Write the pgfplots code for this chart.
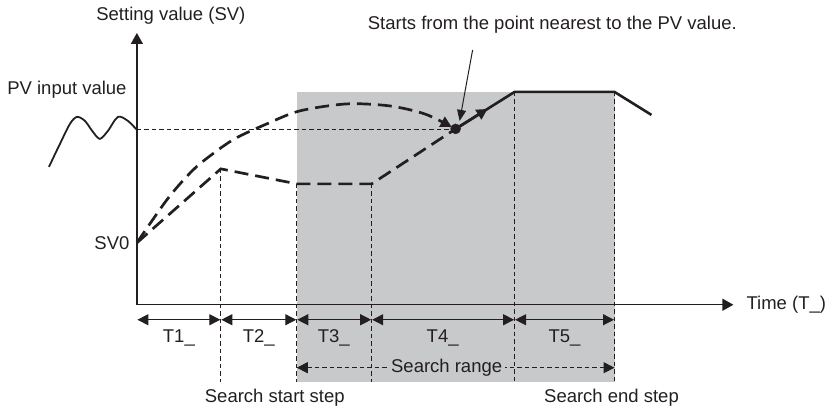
\documentclass[border=0pt]{standalone}
\usepackage{pgfplots}
\pgfplotsset{compat=1.18}
\usepackage{fontspec}
\setmainfont{Liberation Sans}
\usetikzlibrary{arrows.meta}
\definecolor{shade}{RGB}{200,201,203}
\definecolor{ink}{RGB}{35,31,32}
\tikzset{lbl/.style={font=\fontsize{18.5bp}{22bp}\selectfont, text=ink, inner sep=0pt}}
\begin{document}
\begin{tikzpicture}
\begin{axis}[
  hide axis, scale only axis, clip=false,
  width=826bp, height=412bp,
  xmin=0, xmax=826, ymin=0, ymax=412, y dir=reverse,
  thin dash/.style={ink, line width=1bp, dash pattern=on 4.5bp off 3bp},
  thick dash/.style={ink, line width=2.7bp, dash pattern=on 14bp off 7bp},
  tip/.style={-{Triangle[length=11bp,width=11bp]}},
  dim/.style={ink, line width=1.2bp, {Triangle[length=11bp,width=11bp]}-{Triangle[length=11bp,width=11bp]}, shorten <=0.5bp, shorten >=0.5bp},
]
% page frame
\addplot [draw=none] coordinates {(0,0) (826,412)};
% search range shading
\addplot [fill=shade, draw=none] coordinates {(297,92) (615,92) (615,382) (297,382)} -- cycle;
% thin dashed guides
\addplot [thin dash] coordinates {(221,169) (221,382)};
\addplot [thin dash] coordinates {(297,184) (297,382)};
\addplot [thin dash] coordinates {(372,184) (372,382)};
\addplot [thin dash] coordinates {(515,92) (515,382)};
\addplot [thin dash] coordinates {(615,92) (615,382)};
\addplot [thin dash] coordinates {(137,130) (452,130)};
% axes
\addplot [ink, line width=1.3bp, -{Triangle[length=11bp,width=12bp]}] coordinates {(137,305) (137,33)};
\addplot [ink, line width=1.3bp, -{Triangle[length=11bp,width=12bp]}] coordinates {(137,305) (734,305)};
% PV input
\addplot [ink, line width=1.8bp, smooth] coordinates {
  (49,167) (60,144) (70,124) (77,117) (85,121) (93,132) (100,139) (108,131) (118,117) (128,121) (137,130)};
% upper search path
\addplot [thick dash, smooth, tip] coordinates {
  (137,243) (150,224) (167,200) (182,182) (200,164) (233,140) (267,124) (300,111) (347,104) (390,106) (425,114) (452,127)};
% lower search path
\addplot [thick dash] coordinates {(137,243) (221,169) (297,184) (372,184) (456,129)};
% solid continuation
\addplot [ink, line width=2.6bp] coordinates {(456,129) (515,92) (615,92) (652,115)};
\addplot [ink, line width=2.6bp, tip] coordinates {(456,129) (488,109)};
\addplot [only marks, mark=*, mark size=5bp, ink] coordinates {(456,129)};
% annotation pointer
\addplot [ink, line width=1bp, -{Triangle[length=11bp,width=9bp]}] coordinates {(473,50) (460,121)};
% time segments
\addplot [dim] coordinates {(137,320) (221,320)};
\addplot [dim] coordinates {(221,320) (297,320)};
\addplot [dim] coordinates {(297,320) (372,320)};
\addplot [dim] coordinates {(372,320) (515,320)};
\addplot [dim] coordinates {(515,320) (615,320)};
\addplot [ink, line width=1bp, dash pattern=on 4.5bp off 3bp, {Triangle[length=11bp,width=11bp]}-{Triangle[length=11bp,width=11bp]}] coordinates {(297,368) (615,368)};
% texts
\node[lbl] at (axis cs:171,16) {Setting value (SV)};
\node[lbl] at (axis cs:67,90) {PV input value};
\node[lbl] at (axis cs:112,243) {SV0};
\node[lbl, anchor=west] at (axis cs:368,25) {Starts from the point nearest to the PV value.};
\node[lbl, anchor=west] at (axis cs:747,305) {Time (T\_)};
\node[lbl] at (axis cs:179,338) {T1\_};
\node[lbl] at (axis cs:259,338) {T2\_};
\node[lbl] at (axis cs:334,338) {T3\_};
\node[lbl] at (axis cs:443,338) {T4\_};
\node[lbl] at (axis cs:565,338) {T5\_};
\node[lbl, fill=shade, inner xsep=3bp, inner ysep=1bp] at (axis cs:447,368) {Search range};
\node[lbl] at (axis cs:275,398) {Search start step};
\node[lbl] at (axis cs:612,398) {Search end step};
\end{axis}
\end{tikzpicture}
\end{document}
